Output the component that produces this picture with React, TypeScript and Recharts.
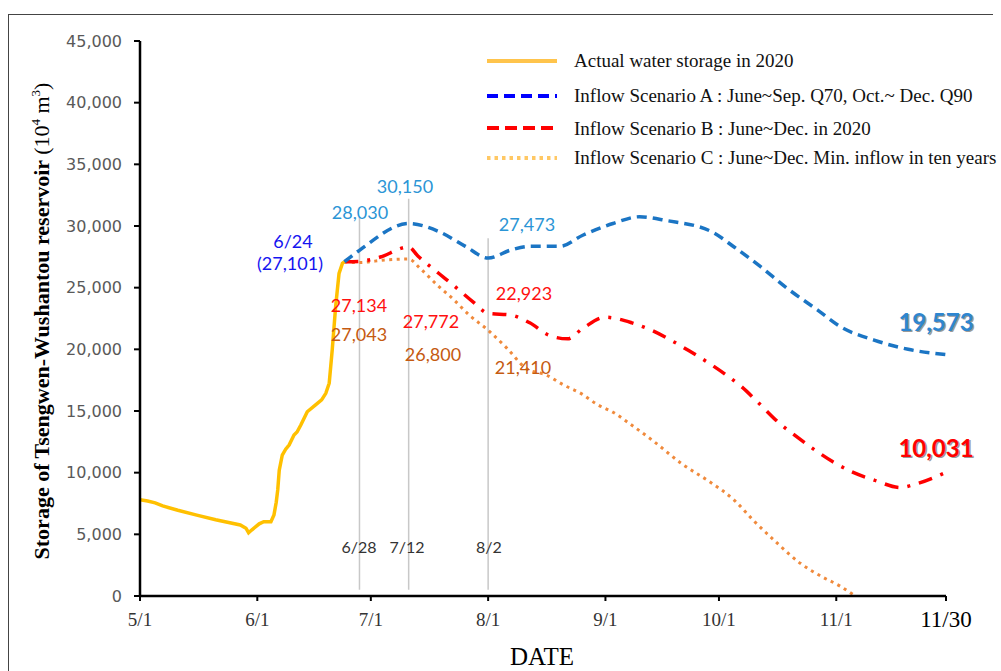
import { LineChart, Line, XAxis, YAxis, ReferenceLine } from "recharts";

// axis ticks (day index counted from 5/1)
const tickDays = [0, 31, 61, 92, 123, 153, 184, 213];
const tickLabels = ["5/1", "6/1", "7/1", "8/1", "9/1", "10/1", "11/1", "11/30"];
const yTicks = [0, 5000, 10000, 15000, 20000, 25000, 30000, 35000, 40000, 45000];

// actual storage 2020 (10^4 m3)
const actualDays = [0, 2, 4, 6, 10, 15, 20, 26.5, 28, 28.7, 29.5, 30.6, 31.5, 32.7, 34.6, 35.4, 36, 36.4, 36.8, 37.6, 38.5, 39.4, 40.7, 41.5, 42.5, 44.2, 46.4, 48, 49.1, 50, 50.8, 51.7, 52.6, 53.5, 54];
const actualStorage = [7800, 7700, 7550, 7300, 6950, 6560, 6180, 5760, 5500, 5130, 5350, 5620, 5850, 6030, 6030, 6570, 7600, 8600, 10200, 11430, 11900, 12240, 13050, 13300, 13860, 14940, 15490, 15900, 16430, 17250, 19950, 23460, 26160, 26980, 27101];

// scenario A : June~Sep Q70, Oct~Dec Q90
const scenADays = [54, 58, 71, 79, 86, 92, 98, 103, 111, 117, 125, 132, 139, 151, 157, 164, 171, 179, 185, 194, 203, 213];
const scenAStorage = [27101, 28030, 30200, 29550, 28350, 27400, 28050, 28350, 28350, 29250, 30200, 30750, 30450, 29550, 28300, 26700, 24950, 23200, 21850, 20750, 20000, 19573];

// scenario B : June~Dec in 2020
const scenBDays = [54, 58, 63, 71, 73.5, 79, 83, 88, 92, 98, 103, 108, 113, 117, 123, 130, 135, 141, 145, 151, 155, 159, 164, 169, 173, 179, 183, 188, 194, 201, 205, 213];
const scenBStorage = [27101, 27134, 27430, 28300, 27550, 26150, 25150, 23850, 22923, 22780, 22150, 21150, 20850, 21700, 22600, 22150, 21570, 20620, 19900, 18750, 17900, 16970, 15490, 14000, 13050, 11700, 10900, 10080, 9400, 8800, 9080, 10031];

// scenario C : June~Dec min inflow in ten years
const scenCDays = [54, 58, 65, 71, 74, 78.5, 83, 87, 92, 97, 102, 107.5, 112, 116.5, 121, 125, 129.5, 135.5, 143.5, 150.5, 157, 162, 168, 174.5, 180, 185, 189];
const scenCStorage = [27101, 27043, 27250, 27320, 26570, 25220, 24000, 22780, 21550, 20080, 18460, 17900, 17100, 16430, 15500, 14900, 13950, 12600, 10650, 9270, 7780, 6160, 4400, 2650, 1600, 800, 0];

// marker lines
const markerDays = [58, 71, 92];
const markerTops = [30700, 32200, 29000];
const markerLabels = ["6/28", "7/12", "8/2"];

const toRows = (days: number[], vals: number[]) => days.map((d, i) => ({ day: d, v: vals[i] }));

const serif = "'Liberation Serif', 'Times New Roman', serif";
const calibri = "Lato, 'Noto Sans', sans-serif";

const XTick = (props: any) => {
  const { x, y, payload } = props;
  const i = tickDays.indexOf(payload.value);
  const last = i === tickDays.length - 1;
  return (
    <text x={x} y={y + 16} textAnchor="middle" dominantBaseline="central" fontFamily={serif}
      fontSize={last ? 23 : 19} fill={last ? "#000" : "#333"}>
      {tickLabels[i]}
    </text>
  );
};

const Ann = ({ x, y, c, t, s = 18, b = false, sh = false }: any) => (
  <g>
    {sh && (
      <text x={x + 1.5} y={y + 1.5} textAnchor="middle" dominantBaseline="central" fontFamily={calibri}
        fontSize={s} fontWeight={b ? 700 : 400} fill="#9a9a9a">{t}</text>
    )}
    <text x={x} y={y} textAnchor="middle" dominantBaseline="central" fontFamily={calibri}
      fontSize={s} fontWeight={b ? 700 : 400} fill={c}>{t}</text>
  </g>
);

export default function App() {
  return (
    <div style={{ position: "absolute", left: 0, top: 0, width: 1001, height: 671, background: "#fff", overflow: "hidden" }}>
      <div style={{ position: "absolute", left: 8, top: 14, width: 984, height: 700, borderTop: "1.5px solid #444", borderLeft: "1.5px solid #444" }} />
      <LineChart width={1001} height={671} margin={{ top: 41, right: 55, bottom: 45, left: 0 }}>
        <XAxis type="number" dataKey="day" domain={[0, 213]} ticks={tickDays} height={30}
          axisLine={{ stroke: "#000", strokeWidth: 2.5 }} tickLine={{ stroke: "#000", strokeWidth: 2 }}
          tickSize={5} tick={<XTick />} interval={0} allowDataOverflow />
        <YAxis type="number" domain={[0, 45000]} ticks={yTicks} width={140} tickSize={6} tickMargin={12}
          tickFormatter={(v: number) => v.toLocaleString("en-US")}
          axisLine={{ stroke: "#000", strokeWidth: 2.5 }} tickLine={{ stroke: "#000", strokeWidth: 2 }}
          tick={{ fill: "#595959", fontSize: 16, fontFamily: "'DejaVu Sans', Verdana, sans-serif" }} />
        {markerDays.map((d, i) => (
          <ReferenceLine key={i} segment={[{ x: d, y: 500 }, { x: d, y: markerTops[i] }]}
            stroke="#c8c8c8" strokeWidth={1.5} />
        ))}
        <Line data={toRows(scenCDays, scenCStorage)} dataKey="v" type="monotone" stroke="#F08A3C"
          strokeWidth={3} strokeDasharray="3 4.5" dot={false} isAnimationActive={false} />
        <Line data={toRows(scenBDays, scenBStorage)} dataKey="v" type="monotone" stroke="#FF0000"
          strokeWidth={3.5} strokeDasharray="14 9 3 9" dot={false} isAnimationActive={false} />
        <Line data={toRows(scenADays, scenAStorage)} dataKey="v" type="monotone" stroke="#1B75C4"
          strokeWidth={3.5} strokeDasharray="10 6" dot={false} isAnimationActive={false} />
        <Line data={toRows(actualDays, actualStorage)} dataKey="v" type="linear" stroke="#FFC000"
          strokeWidth={3.5} dot={false} isAnimationActive={false} />
      </LineChart>
      <svg width={1001} height={671} style={{ position: "absolute", left: 0, top: 0, pointerEvents: "none" }}>
        {/* legend */}
        <line x1={487} y1={61} x2={557} y2={61} stroke="#FFC44C" strokeWidth={4} />
        <line x1={487} y1={96} x2={557} y2={96} stroke="#0000FF" strokeWidth={4} strokeDasharray="11 6" />
        <line x1={487} y1={128} x2={557} y2={128} stroke="#FF0000" strokeWidth={4} strokeDasharray="12 6" />
        <line x1={487} y1={158} x2={557} y2={158} stroke="#FFC864" strokeWidth={4} strokeDasharray="3.5 4" />
        <g fontFamily={serif} fontSize={19} fill="#111">
          <text x={574} y={67}>Actual water storage in 2020</text>
          <text x={574} y={102}>Inflow Scenario A : June~Sep. Q70, Oct.~ Dec. Q90</text>
          <text x={574} y={135}>Inflow Scenario B : June~Dec. in 2020</text>
          <text x={574} y={164}>Inflow Scenario C : June~Dec. Min. inflow in ten years</text>
        </g>
        {/* axis titles */}
        <text x={542} y={665} textAnchor="middle" fontFamily={serif} fontSize={25} fill="#000">DATE</text>
        <text transform="translate(49,321) rotate(-90)" textAnchor="middle" fontFamily={serif} fontSize={22} fill="#000">
          <tspan fontWeight={700}>Storage of Tsengwen-Wushantou reservoir </tspan>
          <tspan>(10</tspan>
          <tspan fontSize={13} dy={-9}>4</tspan>
          <tspan dy={9}> m</tspan>
          <tspan fontSize={13} dy={-9}>3</tspan>
          <tspan dy={9}>)</tspan>
        </text>
        {/* annotations */}
        <Ann x={293} y={241} c="#1515F0" t="6/24" />
        <Ann x={290} y={263} c="#1515F0" t="(27,101)" />
        <Ann x={360} y={212} c="#2B95D6" t="28,030" />
        <Ann x={405} y={186} c="#2B95D6" t="30,150" />
        <Ann x={527} y={224} c="#2B95D6" t="27,473" />
        <Ann x={359} y={305} c="#FF1010" t="27,134" />
        <Ann x={359} y={334} c="#C55A11" t="27,043" />
        <Ann x={431} y={321} c="#FF1010" t="27,772" />
        <Ann x={433} y={354} c="#C55A11" t="26,800" />
        <Ann x={524} y={293} c="#FF1010" t="22,923" />
        <Ann x={523} y={367} c="#C55A11" t="21,410" />
        <Ann x={936} y={321} c="#2E86D0" t="19,573" s={24} b sh />
        <Ann x={936} y={447} c="#FF0000" t="10,031" s={24} b sh />
        {markerDays.map((d, i) => (
          <Ann key={d} x={[359, 407, 489][i]} y={546} c="#333" t={markerLabels[i]} s={16} />
        ))}
      </svg>
    </div>
  );
}
